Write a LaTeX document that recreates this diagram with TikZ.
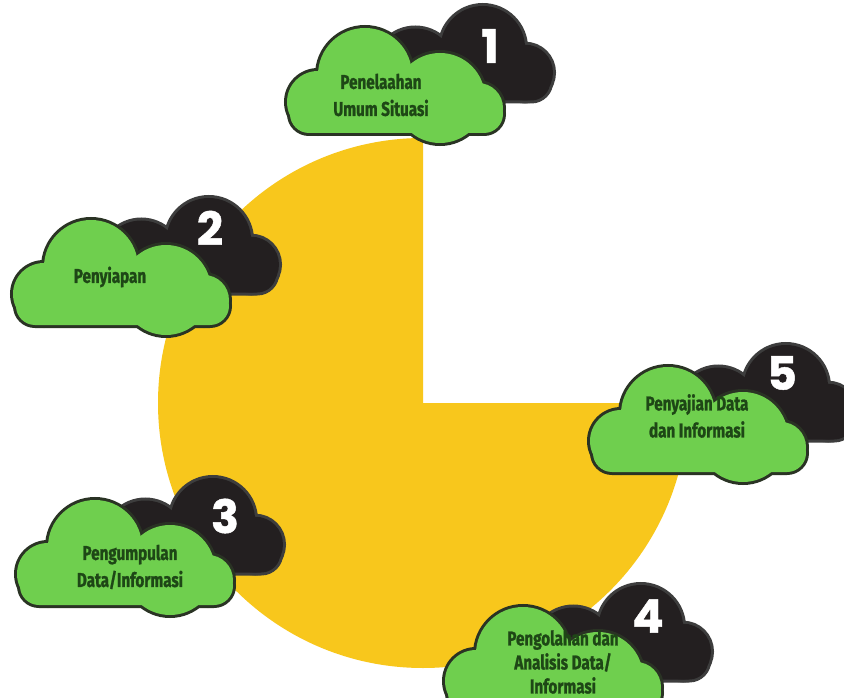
\documentclass[tikz,border=0pt]{standalone}
\usepackage{fontspec}
\usepackage{tikz}
\usetikzlibrary{positioning}
\usepackage{xcolor}
\newfontfamily\labelfont[FakeStretch=0.76, FakeBold=1.2]{Fira Sans}
\newfontfamily\numfont[FakeBold=1]{Poppins}
\definecolor{pieyellow}{HTML}{F8C71C}
\definecolor{cloudgreen}{HTML}{6FCF4E}
\definecolor{greenedge}{HTML}{2A3324}
\definecolor{darkcloud}{HTML}{231F20}
\definecolor{darkedge}{HTML}{3D3D3D}
\definecolor{textgreen}{HTML}{1E4716}

% one cloud: flat base plus four bumps (local px, y downwards)
\newcommand{\cloudparts}[1]{%
  \path[#1, rounded corners=19pt] (3,67) rectangle (216,105);
  \path[#1] (31,74) circle[radius=31];
  \path[#1] (78,47) circle[radius=47];
  \path[#1] (153,70) circle[radius=45];
  \path[#1] (191,80) circle[radius=25];
}
% green cloud at (#1,#2) with the dark one behind it
\newcommand{\cloudpair}[2]{%
  \begin{scope}[shift={(#1+266,#2-22)}, xscale=-0.9, yscale=0.9]
    \cloudparts{draw=darkedge, line width=6pt}
    \cloudparts{fill=darkcloud}
  \end{scope}
  \begin{scope}[shift={(#1,#2)}]
    \cloudparts{draw=greenedge, line width=6pt}
    \cloudparts{fill=cloudgreen}
  \end{scope}
}

\tikzset{
  cloudtext/.style={font=\labelfont\bfseries\fontsize{20}{27}\selectfont, text=textgreen, align=center, inner sep=0pt},
  cloudnum/.style={font=\numfont\bfseries\fontsize{46}{46}\selectfont, text=white, inner sep=0pt}
}

\begin{document}
\begin{tikzpicture}[x=1pt, y=-1pt]
  \useasboundingbox (0,0) rectangle (844,698);
  \fill[white] (0,0) rectangle (844,698);

  % Three-quarter disc
  \fill[pieyellow] (423,403) -- ++(265,0) arc[start angle=0, end angle=270, radius=265] -- cycle;

  % Clouds
  \cloudpair{287}{28}
  \cloudpair{13}{220}
  \cloudpair{17}{500}
  \cloudpair{445}{607}
  \cloudpair{590}{367}

  % Labels
  \node[cloudtext] (t1) at (381,95) {Penelaahan\\Umum Situasi};
  \node[cloudtext] (t2) at (110,277) {Penyiapan};
  \node[cloudtext] (t3) at (130,567) {Pengumpulan\\Data/Informasi};
  \node[cloudtext, font=\labelfont\bfseries\fontsize{20}{24}\selectfont] (t4) at (563,662) {Pengolahan dan\\Analisis Data/\\Informasi};
  \node[cloudtext] (t5) at (697,416) {Penyajian Data\\dan Informasi};

  % Step numbers
  \node[cloudnum] (n1) at (490,46) {1};
  \node[cloudnum] (n2) at (210,228) {2};
  \node[cloudnum] (n3) at (225,516) {3};
  \node[cloudnum] (n4) at (648,616) {4};
  \node[cloudnum] (n5) at (782,373) {5};
\end{tikzpicture}
\end{document}
